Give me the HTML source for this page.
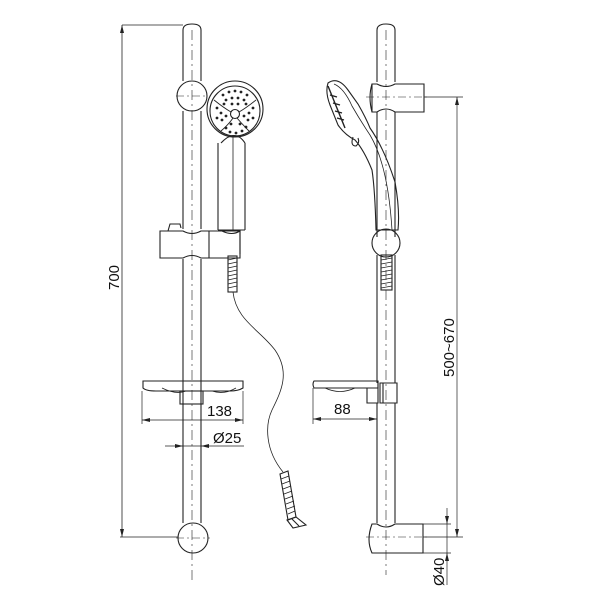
<!DOCTYPE html>
<html><head><meta charset="utf-8"><style>
html,body{margin:0;padding:0;background:#fff;}
svg{display:block}
text{font-family:"Liberation Sans",sans-serif;font-size:15px;fill:#111}
</style></head><body>
<svg width="600" height="600" viewBox="0 0 600 600" xmlns="http://www.w3.org/2000/svg">
<g fill="none" stroke="#222" stroke-width="1.1">
<line x1="122" y1="25" x2="183" y2="25" stroke-width="0.8"/>
<line x1="122" y1="25" x2="122" y2="537" stroke-width="0.8"/>
<line x1="120" y1="537" x2="178" y2="537" stroke-width="0.8"/>
<path d="M122 25 l-2 8 h4z M122 537 l-2 -8 h4z" fill="#222" stroke="none"/>
<path d="M183 30 Q183 24 192 24 Q201 24 201 30 V81"/>
<path d="M183 30 V81"/>
<path d="M183 111 V229 M201 111 V229"/>
<path d="M183 259 V523 M201 259 V523"/>
<line x1="192" y1="30" x2="192" y2="580" stroke-dasharray="10 4 2 4" stroke-width="0.6"/>
<circle cx="192" cy="96" r="15"/>
<line x1="176" y1="96" x2="208" y2="96" stroke-dasharray="8 3 2 3" stroke-width="0.6"/>
<circle cx="193" cy="538" r="15"/>
<line x1="176" y1="538" x2="210" y2="538" stroke-dasharray="8 3 2 3" stroke-width="0.6"/>
<path d="M160 231 H183 Q192 236 201 231 H240 V258 H201 Q192 253 183 258 H160 Z"/>
<line x1="209" y1="231" x2="209" y2="258"/>
<path d="M168 231 L170 224 H180 L181 228"/>
<path d="M222 231 Q232 236 240 231 V254"/>
<path d="M218 143 V230 M245 143 V230 M218 230 H245"/>
<path d="M221 143 Q235 128 245 143"/>
<line x1="233" y1="135" x2="233" y2="230" stroke-width="0.8"/>
<circle cx="235" cy="109" r="28"/>
<circle cx="235" cy="111" r="25"/>
<circle cx="235" cy="114" r="4.5"/>
<path d="M214 100 Q224 108 231 112 M256 100 Q246 108 239 112 M221 131 Q229 124 233 118 M249 131 Q242 124 237 118" stroke-width="0.9"/>
</g>
<g fill="#222">
<circle cx="223" cy="95" r="1.4"/><circle cx="229" cy="92" r="1.4"/><circle cx="235" cy="91" r="1.4"/><circle cx="241" cy="92" r="1.4"/><circle cx="247" cy="95" r="1.4"/>
<circle cx="226" cy="100" r="1.4"/><circle cx="232" cy="98" r="1.4"/><circle cx="238" cy="98" r="1.4"/><circle cx="244" cy="100" r="1.4"/>
<circle cx="232" cy="104" r="1.4"/><circle cx="238" cy="104" r="1.4"/>
<circle cx="217" cy="108" r="1.4"/><circle cx="221" cy="113" r="1.4"/><circle cx="217" cy="118" r="1.4"/><circle cx="222" cy="120" r="1.4"/><circle cx="226" cy="116" r="1.4"/>
<circle cx="253" cy="108" r="1.4"/><circle cx="249" cy="113" r="1.4"/><circle cx="253" cy="118" r="1.4"/><circle cx="248" cy="120" r="1.4"/><circle cx="244" cy="116" r="1.4"/>
<circle cx="226" cy="128" r="1.4"/><circle cx="230" cy="132" r="1.4"/><circle cx="236" cy="133" r="1.4"/><circle cx="242" cy="131" r="1.4"/><circle cx="246" cy="127" r="1.4"/>
<circle cx="231" cy="124" r="1.4"/><circle cx="240" cy="124" r="1.4"/><circle cx="224" cy="104" r="1.4"/><circle cx="246" cy="104" r="1.4"/>
</g>
<g fill="none" stroke="#222" stroke-width="1.1">
<rect x="228" y="256" width="9" height="36"/>
<path d="M228 260 L237 258 M228 264 L237 262 M228 268 L237 266 M228 272 L237 270 M228 276 L237 274 M228 280 L237 278 M228 284 L237 282 M228 288 L237 286" stroke-width="0.8"/>
<path d="M233 292 C236 320 260 330 275 350 C290 372 282 390 272 410 C265 425 265 450 283 472" stroke-width="0.8"/>
<path d="M280 474 L288 471 L296 517 L288 520 Z"/>
<path d="M281 479 L289 476 M282 484 L290 481 M283 489 L291 486 M284 494 L292 491 M285 499 L293 496 M286 504 L294 501 M287 509 L295 506 M288 514 L295 511" stroke-width="0.8"/>
<path d="M287 520 L296 517 L306 525 L293 528 Z"/>
<line x1="292" y1="519" x2="299" y2="526"/>
<path d="M143 381 H243 V388 Q238 391 230 391 H156 Q146 391 143 388 Z"/>
<path d="M162 388 Q176 395 186 391 M212 391 Q224 395 236 388" stroke-width="0.8"/>
<rect x="180" y="391" width="23" height="13"/>
<line x1="142" y1="391" x2="142" y2="424" stroke-width="0.7"/>
<line x1="243" y1="391" x2="243" y2="424" stroke-width="0.7"/>
<line x1="142" y1="420" x2="243" y2="420" stroke-width="0.7"/>
<path d="M142 420 l8 -2 v4z M243 420 l-8 -2 v4z" fill="#222" stroke="none"/>
<line x1="165" y1="446" x2="244" y2="446" stroke-width="0.7"/>
<path d="M183 446 l-8 -2 v4z M201 446 l8 -2 v4z" fill="#222" stroke="none"/>

<path d="M377 30 Q377 24 386 24 Q395 24 395 30 V82 M377 30 V82"/>
<path d="M377 112 V237 M395 112 V237"/>
<path d="M377 255 V383 M395 255 V383 M377 403 V523 M395 403 V523"/>
<line x1="386" y1="30" x2="386" y2="575" stroke-dasharray="10 4 2 4" stroke-width="0.6"/>
<path d="M372 84 H377 Q386 89 395 84 H424 V112 H395 Q386 106 377 112 H372 Z"/>
<path d="M372 84 Q368 97 372 112"/>
<line x1="366" y1="97" x2="430" y2="97" stroke-dasharray="8 3 2 3" stroke-width="0.6"/>
<line x1="424" y1="97" x2="463" y2="97" stroke-width="0.7"/>
<line x1="457" y1="97" x2="457" y2="537" stroke-width="0.7"/>
<line x1="423" y1="537" x2="463" y2="537" stroke-width="0.7"/>
<path d="M457 97 l-2 8 h4z M457 537 l-2 -8 h4z" fill="#222" stroke="none"/>
<path d="M328 83 Q338 76 348 90 L358 104 Q366 118 370 128 Q384 148 395 182 Q400 210 398 230 H376 Q375 190 372 170 Q364 150 355 140 Q345 135 338 125 L330 105 Q325 92 328 83 Z"/>
<path d="M334 84 Q344 88 352 106 Q360 120 370 135 Q388 165 392 230" stroke-width="0.8"/>
<path d="M328 86 L345 128 M330 95 L337 97 M333 103 L340 105 M335 111 L342 113 M337 118 L344 120" stroke-width="1.4"/>
<path d="M353 137 Q350 146 356 146 Q360 143 358 138" />
<circle cx="386" cy="243" r="14"/>
<rect x="381" y="255" width="11" height="35"/>
<path d="M381 260 L392 258 M381 264 L392 262 M381 268 L392 266 M381 272 L392 270 M381 276 L392 274 M381 280 L392 278 M381 284 L392 282 M381 288 L392 286" stroke-width="0.8"/>
<path d="M314 381 H378 V388 H314 Q312 384 314 381 Z"/>
<path d="M325 388 Q340 395 355 388" stroke-width="0.8"/>
<path d="M367 388 V403 H378 V381"/>
<path d="M380 383 H397 V403 H380 Z M383 383 V403"/>
<line x1="313" y1="388" x2="313" y2="424" stroke-width="0.7"/>
<line x1="313" y1="419" x2="377" y2="419" stroke-width="0.7"/>
<path d="M313 419 l8 -2 v4z M377 419 l-8 -2 v4z" fill="#222" stroke="none"/>
<path d="M372 524 H377 Q386 530 395 524 H423 V553 H372 Q366 540 372 524 Z"/>
<line x1="366" y1="537" x2="430" y2="537" stroke-dasharray="8 3 2 3" stroke-width="0.6"/>
<line x1="423" y1="524" x2="451" y2="524" stroke-width="0.7"/>
<line x1="423" y1="553" x2="451" y2="553" stroke-width="0.7"/>
<line x1="447" y1="508" x2="447" y2="585" stroke-width="0.7"/>
<path d="M447 524 l-2 -8 h4z M447 553 l-2 8 h4z" fill="#222" stroke="none"/>
</g>
<text x="207" y="416">138</text>
<text x="213" y="443">Ø25</text>
<text x="334" y="414">88</text>
<text transform="translate(119,290) rotate(-90)">700</text>
<text transform="translate(454,377) rotate(-90)">500~670</text>
<text transform="translate(444,586) rotate(-90)">Ø40</text>
</svg>
</body></html>
